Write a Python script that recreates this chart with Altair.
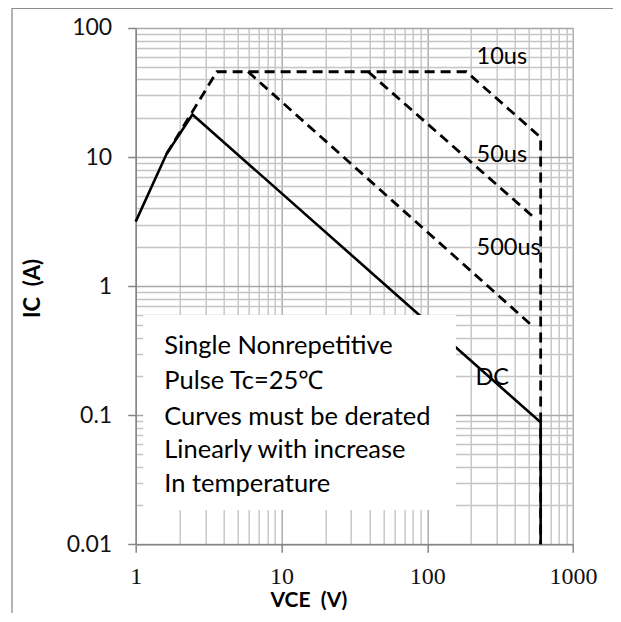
import altair as alt
import pandas as pd

# ---- data (VCE in V, IC in A) ----
dc_v = [1, 1.63, 2.45, 600, 600]
dc_i = [3.16, 10.6, 21.4, 0.088, 0.01]

us10_v = [1.63, 3.6, 186, 600, 600]
us10_i = [10.6, 45.8, 45.8, 14.2, 0.01]

us50_v = [39.4, 525]
us50_i = [45.8, 3.5]

us500_v = [5.9, 533]
us500_i = [45.8, 0.486]

curve_labels = ["10us", "50us", "500us", "DC"]
curve_label_v = [218, 218, 218, 214]
curve_label_i = [59.3, 10.4, 1.97, 0.195]

note_lines = ["Single Nonrepetitive", "Pulse Tc=25℃", "Curves must be derated",
              "Linearly with increase", "In temperature"]
note_v = [1.57, 1.57, 1.57, 1.57, 1.57]
note_i = [0.297, 0.159, 0.0841, 0.0465, 0.0252]

box_v = [1.127, 157.3]
box_i = [0.598, 0.01847]

x_ticks = [1, 2, 3, 4, 5, 6, 7, 8, 9,
           10, 20, 30, 40, 50, 60, 70, 80, 90,
           100, 200, 300, 400, 500, 600, 700, 800, 900, 1000]
y_ticks = [0.01, 0.02, 0.03, 0.04, 0.05, 0.06, 0.07, 0.08, 0.09,
           0.1, 0.2, 0.3, 0.4, 0.5, 0.6, 0.7, 0.8, 0.9,
           1, 2, 3, 4, 5, 6, 7, 8, 9,
           10, 20, 30, 40, 50, 60, 70, 80, 90, 100]
x_major = [1, 10, 100, 1000]
y_major = [0.01, 0.1, 1, 10, 100]

# ---- tables ----
dc_df = pd.DataFrame({"v": dc_v, "i": dc_i, "k": list(range(len(dc_v)))})
dash_rows = []
for name, vs, iss in [("10us", us10_v, us10_i), ("50us", us50_v, us50_i), ("500us", us500_v, us500_i)]:
    for k, (a, b) in enumerate(zip(vs, iss)):
        dash_rows.append({"s": name, "v": a, "i": b, "k": k})
dash_df = pd.DataFrame(dash_rows)
lab_df = pd.DataFrame({"t": curve_labels, "v": curve_label_v, "i": curve_label_i})
note_df = pd.DataFrame({"t": note_lines, "v": note_v, "i": note_i})
box_df = pd.DataFrame({"v": [box_v[0]], "v2": [box_v[1]], "i": [box_i[0]], "i2": [box_i[1]]})

xmaj = "indexof(" + str(x_major) + ", datum.value) >= 0"
ymaj = "indexof(" + str(y_major) + ", datum.value) >= 0"

AX = "#868686"
NB = "\u00a0\u00a0"

x_axis = alt.Axis(
    values=x_ticks, title="VCE" + NB + "(V)",
    grid=True, gridWidth=1.4,
    gridColor={"condition": {"test": xmaj, "value": "#a8a8a8"}, "value": "#c4c4c4"},
    tickOpacity={"condition": {"test": xmaj, "value": 1}, "value": 0},
    tickSize=8, tickColor=AX, tickWidth=1.5,
    domainColor=AX, domainWidth=1.5,
    labelExpr=xmaj + " ? format(datum.value, '~g') : ''",
    labelFont="Liberation Serif", labelFontSize=24, labelColor="#111111",
    labelBaseline="alphabetic", labelPadding=31, labelFlush=False, labelOverlap=False,
    titleFont="Lato", titleFontSize=21, titleFontWeight="bold", titleColor="black",
    titleX=172.6, titleY=56.7, titleAlign="center", titleBaseline="middle",
)
y_axis = alt.Axis(
    values=y_ticks, title="IC" + NB + "(A)",
    grid=True, gridWidth=1.4,
    gridColor={"condition": {"test": ymaj, "value": "#a8a8a8"}, "value": "#c4c4c4"},
    tickOpacity={"condition": {"test": ymaj, "value": 1}, "value": 0},
    tickSize=8, tickColor=AX, tickWidth=1.5,
    domainColor=AX, domainWidth=1.5,
    labelExpr=ymaj + " ? format(datum.value, '~g') : ''",
    labelFont="Lato", labelFontSize=23, labelColor="#111111",
    labelPadding=16, labelOverlap=False, labelFlush=False,
    titleFont="Lato", titleFontSize=22, titleFontWeight="bold", titleColor="black",
    titleX=-103.4, titleY=260, titleAngle=270, titleAlign="center", titleBaseline="middle",
)

xs = alt.Scale(type="log", domain=[1, 1000], nice=False)
ys = alt.Scale(type="log", domain=[0.01, 100], nice=False)

dc_line = alt.Chart(dc_df).mark_line(color="black", strokeWidth=2.6).encode(
    x=alt.X("v:Q", scale=xs, axis=x_axis),
    y=alt.Y("i:Q", scale=ys, axis=y_axis),
    order="k:Q",
)
dash_lines = alt.Chart(dash_df).mark_line(color="black", strokeWidth=2.8, strokeDash=[10, 6]).encode(
    x=alt.X("v:Q", scale=xs),
    y=alt.Y("i:Q", scale=ys),
    detail="s:N",
    order="k:Q",
)
box = alt.Chart(box_df).mark_rect(color="white").encode(
    x=alt.X("v:Q", scale=xs), x2="v2:Q",
    y=alt.Y("i:Q", scale=ys), y2="i2:Q",
)
notes = alt.Chart(note_df).mark_text(align="left", baseline="alphabetic", font="Lato",
                                     fontSize=25.5, color="black").encode(
    x=alt.X("v:Q", scale=xs), y=alt.Y("i:Q", scale=ys), text="t:N",
)
labels = alt.Chart(lab_df).mark_text(align="left", baseline="middle", font="Lato",
                                     fontSize=23.5, color="black").encode(
    x=alt.X("v:Q", scale=xs), y=alt.Y("i:Q", scale=ys), text="t:N",
)
frame_left = alt.Chart(box_df).mark_rule(color="#8c8c8c", strokeWidth=1.3).encode(
    x=alt.value(-123.7), y=alt.value(-20), y2=alt.value(600),
)
frame_top = alt.Chart(box_df).mark_rule(color="#8c8c8c", strokeWidth=1.3).encode(
    x=alt.value(-123.7), x2=alt.value(480), y=alt.value(-19.6),
)

chart = alt.layer(dash_lines, dc_line, box, notes, labels, frame_left, frame_top).properties(
    width=437.3, height=516.3,
    autosize=alt.AutoSizeParams(type="none"),
    padding={"left": 127.7, "top": 20, "right": 40, "bottom": 69},
    background="white",
).configure_view(strokeOpacity=0)

chart.save("out.html", embed_options={"renderer": "svg", "actions": False})
